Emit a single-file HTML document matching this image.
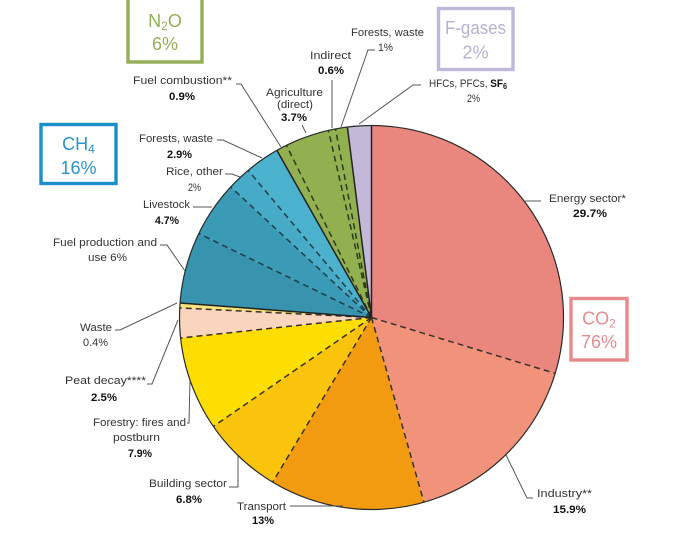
<!DOCTYPE html>
<html>
<head>
<meta charset="utf-8">
<style>
html,body{margin:0;padding:0;background:#fff;}
svg{display:block;}
text{font-family:"Liberation Sans",Arial,sans-serif;}
.l{font-size:11px;fill:#333;}
.b{font-size:11px;fill:#111;font-weight:bold;}
.lead{stroke:#555;stroke-width:1;fill:none;}
.box{font-size:18px;}
</style>
</head>
<body>
<svg width="679" height="541" viewBox="0 0 679 541" xmlns="http://www.w3.org/2000/svg">
<rect width="679" height="541" fill="#fff"/>

<!-- slices -->
<g stroke="none">
<path d="M371.5,317.5 L371.5,125.5 A192,192 0 0 1 555.2,373.4 Z" fill="#e9877f"/>
<path d="M371.5,317.5 L555.2,373.4 A192,192 0 0 1 423.9,502.2 Z" fill="#f0937a"/>
<path d="M371.5,317.5 L423.9,502.2 A192,192 0 0 1 272.7,482.1 Z" fill="#f39b10"/>
<path d="M371.5,317.5 L272.7,482.1 A192,192 0 0 1 213.4,426.4 Z" fill="#fbc40c"/>
<path d="M371.5,317.5 L213.4,426.4 A192,192 0 0 1 180.6,338.0 Z" fill="#fede00"/>
<path d="M371.5,317.5 L180.6,338.0 A192,192 0 0 1 179.7,307.9 Z" fill="#f9d5bd"/>
<path d="M371.5,317.5 L179.7,307.9 A192,192 0 0 1 179.9,303.0 Z" fill="#f8e27c"/>
<path d="M371.5,317.5 L179.9,303.0 A192,192 0 0 1 198.8,233.6 Z" fill="#3893ae"/>
<path d="M371.5,317.5 L198.8,233.6 A192,192 0 0 1 230.7,187.0 Z" fill="#3b9ab5"/>
<path d="M371.5,317.5 L230.7,187.0 A192,192 0 0 1 248.2,170.4 Z" fill="#47aac6"/>
<path d="M371.5,317.5 L248.2,170.4 A192,192 0 0 1 276.9,150.4 Z" fill="#4bb1cc"/>
<path d="M371.5,317.5 L276.9,150.4 A192,192 0 0 1 347.4,127.0 Z" fill="#92b050"/>
<path d="M371.5,317.5 L347.4,127.0 A192,192 0 0 1 371.5,125.5 Z" fill="#c4b8d9"/>
</g>

<!-- dashed inner boundaries -->
<g stroke="#3a3028" stroke-width="1.5" stroke-dasharray="6 4" fill="none">
<line x1="371.5" y1="317.5" x2="555.2" y2="373.4"/>
<line x1="371.5" y1="317.5" x2="423.9" y2="502.2"/>
<line x1="371.5" y1="317.5" x2="272.7" y2="482.1"/>
<line x1="371.5" y1="317.5" x2="213.4" y2="426.4"/>
<line x1="371.5" y1="317.5" x2="180.6" y2="338.0"/>
<line x1="371.5" y1="317.5" x2="179.7" y2="307.9"/>
</g>
<g stroke="#1f3f4c" stroke-width="1.5" stroke-dasharray="6 4" fill="none">
<line x1="371.5" y1="317.5" x2="198.8" y2="233.6"/>
<line x1="371.5" y1="317.5" x2="230.7" y2="187.0"/>
<line x1="371.5" y1="317.5" x2="248.2" y2="170.4"/>
</g>
<g stroke="#2e3a1c" stroke-width="1.5" stroke-dasharray="6 4" fill="none">
<line x1="371.5" y1="317.5" x2="286.5" y2="145.4"/>
<line x1="371.5" y1="317.5" x2="328.4" y2="130.4"/>
<line x1="371.5" y1="317.5" x2="335.5" y2="128.9"/>
</g>

<!-- solid group boundaries -->
<g stroke="#222" stroke-width="1.5" fill="none">
<line x1="371.5" y1="317.5" x2="371.5" y2="125.5"/>
<line x1="371.5" y1="317.5" x2="179.9" y2="303.0"/>
<line x1="371.5" y1="317.5" x2="276.9" y2="150.4"/>
<line x1="371.5" y1="317.5" x2="347.4" y2="127.0"/>
</g>
<circle cx="371.5" cy="317.5" r="192" fill="none" stroke="#2a2a2a" stroke-width="1.2"/>

<!-- leader lines -->
<polyline class="lead" points="236,84 241,84 281,147"/>
<polyline class="lead" points="302,125 306,133"/>
<polyline class="lead" points="332,80 332,128"/>
<polyline class="lead" points="375,50 368,50 341,127"/>
<polyline class="lead" points="421,85 413,85 359,124"/>
<polyline class="lead" points="525,201 541,201"/>
<polyline class="lead" points="533,498 527,498 506,455"/>
<polyline class="lead" points="290,506 343,506"/>
<polyline class="lead" points="229,487 238,487 238,456"/>
<polyline class="lead" points="187,423 189,423 190,381"/>
<polyline class="lead" points="147,384 152,384 178,320"/>
<polyline class="lead" points="115,330 120,330 177,303"/>
<polyline class="lead" points="160,245 167,245 185,271"/>
<polyline class="lead" points="193,207 212,207"/>
<polyline class="lead" points="225,174 232,174 240,177"/>
<polyline class="lead" points="217,140 223,140 262,158"/>

<!-- labels -->
<text class="l" x="133" y="84" textLength="99" lengthAdjust="spacingAndGlyphs">Fuel combustion**</text>
<text class="b" x="169" y="100" textLength="26" lengthAdjust="spacingAndGlyphs">0.9%</text>

<text class="l" x="266" y="96" textLength="57" lengthAdjust="spacingAndGlyphs">Agriculture</text>
<text class="l" x="277" y="108" textLength="36" lengthAdjust="spacingAndGlyphs">(direct)</text>
<text class="b" x="281" y="121" textLength="26" lengthAdjust="spacingAndGlyphs">3.7%</text>

<text class="l" x="310" y="59" textLength="41" lengthAdjust="spacingAndGlyphs">Indirect</text>
<text class="b" x="318" y="74" textLength="26" lengthAdjust="spacingAndGlyphs">0.6%</text>

<text class="l" x="351" y="36" textLength="73" lengthAdjust="spacingAndGlyphs">Forests, waste</text>
<text class="l" x="378" y="51" textLength="15" lengthAdjust="spacingAndGlyphs">1%</text>

<text class="l" x="429" y="87" textLength="78" lengthAdjust="spacingAndGlyphs">HFCs, PFCs, <tspan font-weight="bold" fill="#111">SF</tspan><tspan font-weight="bold" fill="#111" font-size="8" dy="2">6</tspan></text>
<text class="l" x="467" y="102" textLength="13" lengthAdjust="spacingAndGlyphs">2%</text>

<text class="l" x="549" y="202" textLength="77" lengthAdjust="spacingAndGlyphs">Energy sector*</text>
<text class="b" x="573" y="217" textLength="34" lengthAdjust="spacingAndGlyphs">29.7%</text>

<text class="l" x="537" y="497" textLength="55" lengthAdjust="spacingAndGlyphs">Industry**</text>
<text class="b" x="553" y="513" textLength="33" lengthAdjust="spacingAndGlyphs">15.9%</text>

<text class="l" x="237" y="510" textLength="49" lengthAdjust="spacingAndGlyphs">Transport</text>
<text class="b" x="252" y="524" textLength="22" lengthAdjust="spacingAndGlyphs">13%</text>

<text class="l" x="149" y="487" textLength="78" lengthAdjust="spacingAndGlyphs">Building sector</text>
<text class="b" x="176" y="503" textLength="26" lengthAdjust="spacingAndGlyphs">6.8%</text>

<text class="l" x="93" y="426" textLength="93" lengthAdjust="spacingAndGlyphs">Forestry: fires and</text>
<text class="l" x="113" y="441" textLength="47" lengthAdjust="spacingAndGlyphs">postburn</text>
<text class="b" x="128" y="457" textLength="24" lengthAdjust="spacingAndGlyphs">7.9%</text>

<text class="l" x="65" y="384" textLength="81" lengthAdjust="spacingAndGlyphs">Peat decay****</text>
<text class="b" x="91" y="401" textLength="26" lengthAdjust="spacingAndGlyphs">2.5%</text>

<text class="l" x="80" y="331" textLength="32" lengthAdjust="spacingAndGlyphs">Waste</text>
<text class="l" x="83" y="346" textLength="25" lengthAdjust="spacingAndGlyphs">0.4%</text>

<text class="l" x="53" y="246" textLength="104" lengthAdjust="spacingAndGlyphs">Fuel production and</text>
<text class="l" x="88" y="261" textLength="39" lengthAdjust="spacingAndGlyphs">use  6%</text>

<text class="l" x="143" y="208" textLength="47" lengthAdjust="spacingAndGlyphs">Livestock</text>
<text class="b" x="155" y="224" textLength="24" lengthAdjust="spacingAndGlyphs">4.7%</text>

<text class="l" x="166" y="175" textLength="57" lengthAdjust="spacingAndGlyphs">Rice, other</text>
<text class="l" x="188" y="191" textLength="13" lengthAdjust="spacingAndGlyphs">2%</text>

<text class="l" x="139" y="142" textLength="74" lengthAdjust="spacingAndGlyphs">Forests, waste</text>
<text class="b" x="167" y="158" textLength="25" lengthAdjust="spacingAndGlyphs">2.9%</text>

<!-- gas boxes -->
<rect x="128" y="-2" width="74" height="64" fill="none" stroke="#93ae55" stroke-width="3.4"/>
<text class="box" x="165" y="27" text-anchor="middle" fill="#93ae58">N<tspan font-size="12" dy="3">2</tspan><tspan dy="-3">O</tspan></text>
<text class="box" x="165" y="50" text-anchor="middle" fill="#93ae58">6%</text>

<rect x="41" y="124.5" width="75" height="59" fill="none" stroke="#1d8fc8" stroke-width="3.4"/>
<text class="box" x="78.5" y="150" text-anchor="middle" fill="#2a93c9">CH<tspan font-size="12" dy="3">4</tspan></text>
<text class="box" x="78.5" y="174" text-anchor="middle" fill="#2a93c9">16%</text>

<rect x="438.5" y="8.5" width="74.5" height="61" fill="none" stroke="#c0b7d9" stroke-width="3.4"/>
<text class="box" x="475.5" y="34" text-anchor="middle" fill="#b8afd3" textLength="61" lengthAdjust="spacingAndGlyphs">F-gases</text>
<text class="box" x="475.5" y="58.5" text-anchor="middle" fill="#b8afd3">2%</text>

<rect x="571" y="298.5" width="56" height="61.5" fill="none" stroke="#e8898b" stroke-width="3.4"/>
<text class="box" x="599" y="324.5" text-anchor="middle" fill="#e58d8f">CO<tspan font-size="12" dy="3">2</tspan></text>
<text class="box" x="599" y="348" text-anchor="middle" fill="#e58d8f">76%</text>
</svg>
</body>
</html>
